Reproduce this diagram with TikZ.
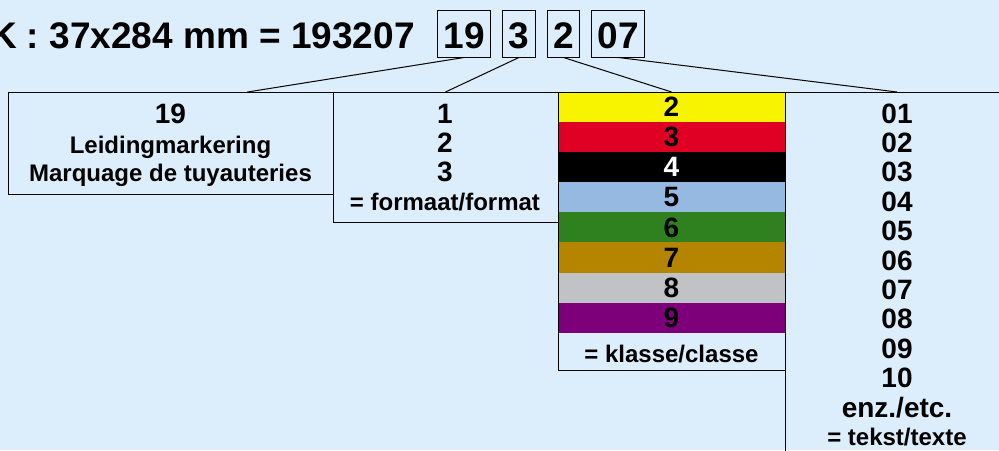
\documentclass[tikz,border=0pt]{standalone}
\usepackage{fontspec}
\setmainfont{Liberation Sans}
\usetikzlibrary{%
  calc%
  ,positioning
}
\definecolor{bgblue}{RGB}{220,237,251}
\definecolor{klyellow}{RGB}{248,244,0}
\definecolor{klred}{RGB}{224,0,36}
\definecolor{klblack}{RGB}{0,0,0}
\definecolor{klblue}{RGB}{149,185,225}
\definecolor{klgreen}{RGB}{47,128,30}
\definecolor{klochre}{RGB}{181,133,0}
\definecolor{klgray}{RGB}{192,195,198}
\definecolor{klpurple}{RGB}{125,0,122}
\tikzset{
  box/.style={draw,line width=1pt,inner sep=0pt,outer sep=0pt,anchor=north west},
  codebox/.style={draw,line width=1pt,inner xsep=6pt,inner ysep=0pt,
    text height=38pt,text depth=9pt,font=\fontsize{37}{40}\selectfont\bfseries},
  big/.style={font=\fontsize{28}{30}\selectfont\bfseries,inner sep=0pt,anchor=base},
  small/.style={font=\fontsize{24}{26}\selectfont\bfseries,inner sep=0pt,anchor=base},
  stripe/.style={minimum width=226pt,minimum height=30.1pt,inner sep=0pt,
    font=\fontsize{28}{30}\selectfont\bfseries},
  link/.style={line width=1pt}
}
\begin{document}
\begin{tikzpicture}[x=1pt,y=-1pt]
      \useasboundingbox (0,0) rectangle (999,450);
      \fill[bgblue] (0,0) rectangle (999,450);
      % code line
      \node[font=\fontsize{37}{40}\selectfont\bfseries,inner sep=0pt,anchor=base east] (code) at (415,48) {K : 37x284 mm = 193207};
      \node[codebox,anchor=base west] (c19) at (437,48) {19};
      \node[codebox,right=11pt of c19] (c3) {3};
      \node[codebox,right=11pt of c3] (c2) {2};
      \node[codebox,right=11pt of c2] (c07) {07};
      % colour stripes
      \foreach \c/\n/\t [count=\i] in {klyellow/2/black,klred/3/black,klblack/4/white,klblue/5/black,klgreen/6/black,klochre/7/black,klgray/8/black,klpurple/9/black}
        \node[stripe,fill=\c,text=\t] (s\n) at (671.5,{107+30.1*(\i-1)}) {\n};
      % boxes
      \node[box,minimum width=325pt,minimum height=102pt] (lbl) at (8,92) {};
      \node[box,minimum width=225pt,minimum height=130pt] (fmt) at (lbl.north east) {};
      \node[box,minimum width=227pt,minimum height=278pt] (cls) at (fmt.north east) {};
      \node[box,minimum width=224pt,minimum height=400pt] (txt) at (cls.north east) {};
      % texts
      \node[big] (l19) at (170.5,123) {19};
      \node[small] (lnl) at (170.5,153) {Leidingmarkering};
      \node[small] (lfr) at (170.5,181) {Marquage de tuyauteries};
      \foreach \n [count=\i] in {1,2,3}
        \node[big] (f\n) at (445,{123+29.4*(\i-1)}) {\n};
      \node[small] (fnote) at (445,210) {= formaat/format};
      \node[small] (cnote) at (671.5,362) {= klasse/classe};
      \foreach \n [count=\i] in {01,02,03,04,05,06,07,08,09,10}
        \node[big] (t\i) at (897,{123+29.4*(\i-1)}) {\n};
      \node[big] (tetc) at (897,417) {enz./etc.};
      \node[small] (tnote) at (897,445) {= tekst/texte};
      % links
      \draw[link] (c19.south) -- ([xshift=77pt]lbl.north);
      \draw[link] (c3.south) -- (fmt.north);
      \draw[link] (c2.south) -- (cls.north);
      \draw[link] (c07.south) -- (txt.north);
    \end{tikzpicture}
\end{document}
